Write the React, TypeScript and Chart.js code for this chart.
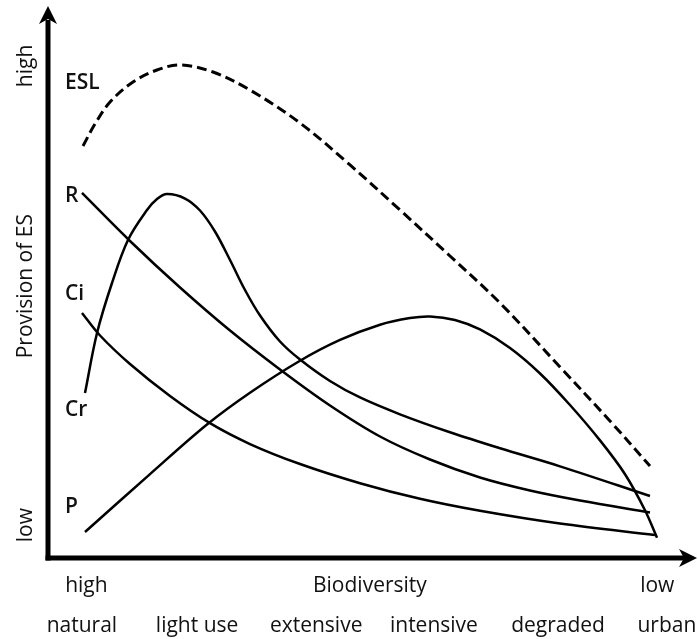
import React, { useEffect, useRef } from "react";
import { Chart, registerables } from "chart.js";

Chart.register(...registerables);

// ---- data (abstract units: x 0..100 biodiversity gradient, y 0..100 provision) ----
const eslX = [5.47, 7.34, 9.69, 13.28, 17.03, 20.63, 25.78, 31.56, 39.38, 47.19, 55.0, 62.81, 70.63, 80.0, 87.81, 94.06];
const eslY = [75.18, 79.2, 83.21, 86.86, 89.05, 89.96, 88.69, 85.4, 79.38, 71.72, 63.5, 55.11, 46.53, 34.85, 25.0, 16.79];

const rX = [5.31, 12.81, 20.63, 28.44, 36.25, 44.06, 51.88, 59.69, 67.5, 75.31, 83.13, 94.06];
const rY = [66.61, 57.85, 49.36, 41.51, 34.4, 27.83, 22.17, 17.97, 14.69, 12.32, 10.49, 8.32];

const crX = [5.78, 7.66, 10.0, 12.5, 15.47, 17.03, 18.59, 21.41, 23.75, 26.09, 28.44, 30.78, 33.13, 36.25, 39.38, 44.06, 48.75, 55.0, 62.81, 70.63, 80.0, 94.06];
const crY = [30.11, 41.06, 50.18, 58.03, 63.5, 65.51, 66.42, 65.6, 63.41, 59.58, 54.38, 48.91, 44.25, 39.51, 36.22, 32.3, 29.29, 26.22, 22.94, 20.02, 16.73, 11.31];

const ciX = [5.31, 8.13, 12.81, 19.06, 25.31, 31.56, 39.38, 48.75, 58.13, 67.5, 80.0, 94.84];
const ciY = [44.71, 40.6, 35.4, 29.56, 24.6, 20.8, 17.15, 13.65, 10.8, 8.61, 6.28, 4.2];

const pX = [5.78, 15.94, 24.84, 31.56, 39.38, 45.63, 51.88, 56.56, 59.69, 63.59, 67.5, 72.19, 76.88, 81.56, 86.25, 90.16, 93.28, 95.16];
const pY = [4.74, 15.31, 24.36, 30.16, 36.0, 39.8, 42.57, 43.78, 44.07, 43.43, 41.7, 38.32, 33.67, 27.92, 21.46, 15.29, 8.72, 3.69];

const curveNames = ["ESL", "R", "Ci", "Cr", "P"];
const curveLabelX = [2.66, 2.66, 2.66, 2.66, 2.66];
const curveLabelY = [86.7, 66.1, 48.1, 27.0, 9.3];

const stageLabels = ["natural", "light use", "extensive", "intensive", "degraded", "urban"];
const stageValues = [5.3, 23.3, 41.9, 60.3, 79.7, 96.7];

const yAxisTitle = "Provision of ES";
const yHighLabel = "high";
const yLowLabel = "low";
const xAxisTitle = "Biodiversity";
const xHighLabel = "high";
const xLowLabel = "low";

const toPoints = (xs: number[], ys: number[]) => xs.map((x, i) => ({ x, y: ys[i] }));

const FONT = '"Open Sans", "Noto Sans", sans-serif';
const INK = "#111";

const axesPlugin = {
  id: "sketchAxes",
  afterDatasetsDraw(chart: any) {
    const { ctx, chartArea, scales } = chart;
    const xs = scales.x;
    const ys = scales.y;
    const left = chartArea.left;
    const bottom = chartArea.bottom;
    ctx.save();
    ctx.fillStyle = "#000";
    ctx.strokeStyle = "#000";
    // y axis line
    ctx.lineWidth = 5;
    ctx.lineCap = "butt";
    ctx.beginPath();
    ctx.moveTo(left, bottom + 2.5);
    ctx.lineTo(left, chartArea.top + 10);
    ctx.stroke();
    // y arrow head
    ctx.beginPath();
    ctx.moveTo(left, chartArea.top - 4);
    ctx.lineTo(left + 9, chartArea.top + 14);
    ctx.lineTo(left, chartArea.top + 9);
    ctx.lineTo(left - 9, chartArea.top + 14);
    ctx.closePath();
    ctx.fill();
    // x axis line
    ctx.beginPath();
    ctx.moveTo(left - 2.5, bottom);
    ctx.lineTo(chartArea.right - 4, bottom);
    ctx.stroke();
    // x arrow head
    ctx.beginPath();
    ctx.moveTo(chartArea.right + 9, bottom);
    ctx.lineTo(chartArea.right - 9, bottom - 9);
    ctx.lineTo(chartArea.right - 4, bottom);
    ctx.lineTo(chartArea.right - 9, bottom + 9);
    ctx.closePath();
    ctx.fill();

    ctx.fillStyle = INK;
    // curve labels
    ctx.font = `600 21px ${FONT}`;
    ctx.textAlign = "left";
    ctx.textBaseline = "middle";
    curveNames.forEach((name, i) => {
      ctx.fillText(name, xs.getPixelForValue(curveLabelX[i]), ys.getPixelForValue(curveLabelY[i]));
    });

    // x axis texts
    ctx.font = `400 21px ${FONT}`;
    ctx.textAlign = "center";
    ctx.textBaseline = "alphabetic";
    ctx.fillText(xHighLabel, xs.getPixelForValue(6.0), bottom + 34);
    ctx.fillText(xAxisTitle, xs.getPixelForValue(50.3), bottom + 34);
    ctx.fillText(xLowLabel, xs.getPixelForValue(95.2), bottom + 34);
    stageLabels.forEach((s, i) => {
      ctx.fillText(s, xs.getPixelForValue(stageValues[i]), bottom + 74);
    });

    // y axis texts (rotated)
    const yTexts: [string, number][] = [
      [yHighLabel, 89.8],
      [yAxisTitle, 49.6],
      [yLowLabel, 6.0],
    ];
    yTexts.forEach(([t, v]) => {
      ctx.save();
      ctx.translate(left - 16, ys.getPixelForValue(v));
      ctx.rotate(-Math.PI / 2);
      ctx.textAlign = "center";
      ctx.textBaseline = "alphabetic";
      ctx.fillText(t, 0, 0);
      ctx.restore();
    });
    ctx.restore();
  },
};

export default function App() {
  const canvasRef = useRef<HTMLCanvasElement | null>(null);

  useEffect(() => {
    const canvas = canvasRef.current;
    if (!canvas) return;
    const solid = (label: string, xs: number[], ys: number[]) => ({
      label,
      data: toPoints(xs, ys),
      borderColor: "#000",
      borderWidth: 2.5,
      pointRadius: 0,
      fill: false,
      tension: 0.35,
      clip: false as const,
    });
    const chart = new Chart(canvas, {
      type: "line",
      data: {
        datasets: [
          {
            ...solid("ESL", eslX, eslY),
            borderWidth: 3,
            borderDash: [10, 5],
          },
          solid("R", rX, rY),
          solid("Ci", ciX, ciY),
          solid("Cr", crX, crY),
          solid("P", pX, pY),
        ],
      },
      options: {
        animation: false,
        responsive: false,
        maintainAspectRatio: false,
        layout: { padding: { left: 48, right: 10, top: 10, bottom: 81 } },
        scales: {
          x: { type: "linear", min: 0, max: 100, display: false },
          y: { type: "linear", min: 0, max: 100, display: false },
        },
        plugins: {
          legend: { display: false },
          tooltip: { enabled: false },
        },
      },
      plugins: [axesPlugin],
    });
    return () => chart.destroy();
  }, []);

  return (
    <div style={{ position: "fixed", left: 0, top: 0, width: 698, height: 639, background: "#fff" }}>
      <canvas ref={canvasRef} width={698} height={639} style={{ display: "block" }} />
    </div>
  );
}
